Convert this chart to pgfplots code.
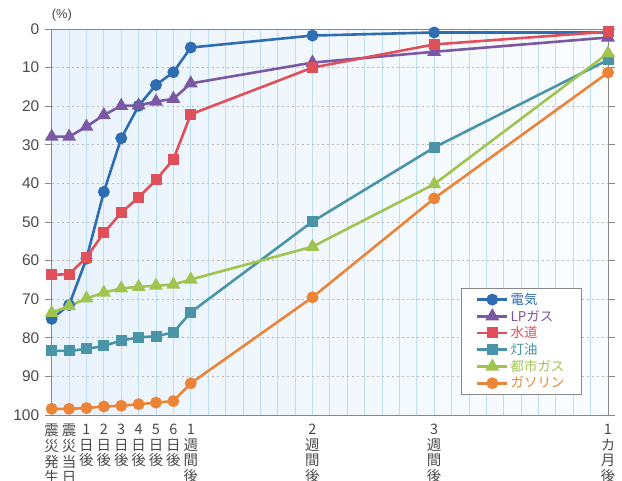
\documentclass[border=0pt]{standalone}
\usepackage{pgfplots}
\pgfplotsset{compat=1.18}
\usepackage{fontspec}
\setmainfont{Liberation Sans}
\newfontfamily\jp{Noto Sans CJK JP}
\newcommand\jpticks{\jp\fontsize{14.5}{15.7}\selectfont\lineskiplimit=-20pt\relax\lineskip=0pt\relax}
\definecolor{cElec}{HTML}{2F6DB3}
\definecolor{cLP}{HTML}{7A58A4}
\definecolor{cWater}{HTML}{E0505A}
\definecolor{cKero}{HTML}{4A94A8}
\definecolor{cCity}{HTML}{A0C450}
\definecolor{cGas}{HTML}{EC8438}
\definecolor{cTxt}{HTML}{4A4A4A}
\definecolor{cGridV}{HTML}{BEDFF2}
\definecolor{cGridH}{HTML}{BBBBBB}
\definecolor{cAxis}{HTML}{888888}
\begin{document}
\begin{tikzpicture}
\path[use as bounding box] (-51.7bp,-66bp) rectangle (570.3bp,415bp);
\begin{axis}[
  scale only axis,
  width=556.3bp, height=386bp,
  xmin=0, xmax=32,
  ymin=0, ymax=100,
  y dir=reverse,
  axis line style={draw=cAxis, line width=0.9pt},
  xtick={0,1,2,3,4,5,6,7,8,15,22,32},
  xticklabels={{震\\災\\発\\生},{震\\災\\当\\日},{1\\日\\後},{2\\日\\後},{3\\日\\後},{4\\日\\後},{5\\日\\後},{6\\日\\後},{1\\週\\間\\後},{2\\週\\間\\後},{3\\週\\間\\後},{1\\カ\\月\\後}},
  minor xtick={0,...,32},
  xtick style={draw=none},
  minor x tick style={draw=none},
  xmajorgrids, xminorgrids,
  x grid style={draw=cGridV, line width=0.8pt},
  minor x grid style={draw=cGridV, line width=0.8pt},
  ytick={0,10,...,100},
  ymajorgrids,
  y grid style={draw=cGridH, dash pattern=on 2.5bp off 2.5bp, line width=0.8pt},
  ytick style={draw=cAxis, line width=0.9pt},
  tick align=outside,
  major tick length=7bp,
  extra y ticks={10},
  extra y tick labels={},
  extra y tick style={grid style={draw=cAxis, solid, line width=0.9pt}},
  /pgf/number format/assume math mode=true,
  yticklabel style={font=\fontsize{15.5}{16}\selectfont, text=cTxt, xshift=-2bp},
  xticklabel style={font=\jpticks, text=cTxt, align=center, inner sep=0pt, yshift=-2bp},
  axis background/.style={left color=blue!4!cGridV!30!white, right color=cGridV!8!white},
  every axis plot/.append style={line width=2.6bp},
  legend style={at={(0.953,0.052)}, anchor=south east, draw=cAxis, line width=0.9pt, fill=white,
    font=\jp\fontsize{13.5}{16}\selectfont, row sep=0bp, inner xsep=15bp, inner ysep=3bp},
  legend cell align=left,
  legend image code/.code={\draw[mark repeat=2, mark phase=2] plot coordinates {(0bp,0bp) (15bp,0bp) (30bp,0bp)};},
  clip=false,
]
\addplot[color=cElec, mark=*, mark size=4.6bp, mark options={solid}] coordinates {
(0,75.1) (1,71.5) (2,59.5) (3,42.2) (4,28.3) (5,19.9) (6,14.5) (7,11.2) (8,4.8) (15,1.7) (22,0.9) (32,0.9)};
\addlegendentry{\textcolor{cElec}{電気}}
\addplot[color=cLP, mark=triangle*, mark size=5.5bp] coordinates {
(0,27.9) (1,27.9) (2,25.3) (3,22.3) (4,19.9) (5,19.8) (6,18.8) (7,18.1) (8,14.1) (15,8.7) (22,5.9) (32,2.2)};
\addlegendentry{\textcolor{cLP}{LPガス}}
\addplot[color=cWater, mark=square*, mark size=4.2bp] coordinates {
(0,63.7) (1,63.5) (2,59.2) (3,52.8) (4,47.6) (5,43.6) (6,39.1) (7,33.8) (8,22.1) (15,10.0) (22,4.0) (32,0.7)};
\addlegendentry{\textcolor{cWater}{水道}}
\addplot[color=cKero, mark=square*, mark size=4.2bp] coordinates {
(0,83.4) (1,83.4) (2,82.9) (3,82.1) (4,80.7) (5,79.9) (6,79.6) (7,78.6) (8,73.4) (15,49.9) (22,30.7) (32,8.0)};
\addlegendentry{\textcolor{cKero}{灯油}}
\addplot[color=cCity, mark=triangle*, mark size=5.5bp] coordinates {
(0,73.5) (1,71.8) (2,69.8) (3,68.3) (4,67.2) (5,66.8) (6,66.5) (7,66.2) (8,64.9) (15,56.4) (22,40.2) (32,6.3)};
\addlegendentry{\textcolor{cCity}{都市ガス}}
\addplot[color=cGas, mark=*, mark size=4.6bp] coordinates {
(0,98.4) (1,98.4) (2,98.2) (3,97.8) (4,97.6) (5,97.2) (6,96.8) (7,96.4) (8,91.8) (15,69.5) (22,43.9) (32,11.3)};
\addlegendentry{\textcolor{cGas}{ガソリン}}
\node[anchor=south west, font=\fontsize{13}{13}\selectfont, text=cTxt, inner sep=0pt] at (axis description cs:0,1) [yshift=8bp] {(\%)};
\end{axis}
\end{tikzpicture}
\end{document}
